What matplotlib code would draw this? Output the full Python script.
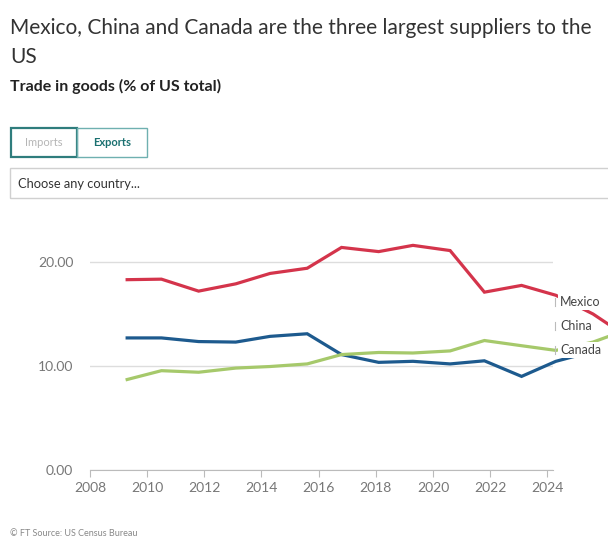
import matplotlib
matplotlib.use("Agg")
import matplotlib.pyplot as plt
from matplotlib.patches import Rectangle

plt.rcParams['font.family'] = ['Lato', 'DejaVu Sans']

# positions of the points along the time axis (as drawn)
years = [2009.3, 2010.5, 2011.8, 2013.1, 2014.3, 2015.6, 2016.8, 2018.1,
         2019.3, 2020.6, 2021.8, 2023.1, 2024.3, 2025.6, 2026.8]
mexico = [18.3, 18.35, 17.2, 17.9, 18.9, 19.4, 21.4, 21.0,
          21.6, 21.1, 17.1, 17.75, 16.8, 15.0, 12.8]
china = [12.7, 12.7, 12.35, 12.3, 12.85, 13.1, 11.1, 10.35,
         10.45, 10.2, 10.5, 9.0, 10.45, 11.4]
canada = [8.7, 9.55, 9.4, 9.8, 9.95, 10.2, 11.1, 11.3,
          11.25, 11.45, 12.45, 11.95, 11.5, 12.3, 13.5]

series = [("Mexico", mexico, "#d4344b"),
          ("China", china, "#1d5a8e"),
          ("Canada", canada, "#a6c96b")]
label_y = [16.15, 13.85, 11.55]

xticks = [2008, 2010, 2012, 2014, 2016, 2018, 2020, 2022, 2024]
yticks = [0, 10, 20]

W, H = 608, 541
fig = plt.figure(figsize=(W / 100, H / 100), dpi=100)

def px(x, y):
    return x / W, 1 - y / H

fig.text(*px(10, 28), "Mexico, China and Canada are the three largest suppliers to the",
         fontsize=15, color="#333333", va="center")
fig.text(*px(10, 57), "US", fontsize=15, color="#333333", va="center")
fig.text(*px(10, 86), "Trade in goods (% of US total)", fontsize=11.5,
         fontweight="bold", color="#222222", va="center")

# toggle buttons
fig.patches.append(Rectangle(px(11, 157), 66 / W, 29 / H, transform=fig.transFigure,
                             fill=False, ec="#2f7d7d", lw=1.6))
fig.patches.append(Rectangle(px(77, 157), 70 / W, 29 / H, transform=fig.transFigure,
                             fill=False, ec="#6fb0b0", lw=1.0))
fig.text(*px(44, 142), "Imports", fontsize=8, color="#b5b5b5", ha="center", va="center")
fig.text(*px(112, 142), "Exports", fontsize=8, color="#1a7070", fontweight="bold",
         ha="center", va="center")

# dropdown
fig.patches.append(Rectangle(px(10, 198), 640 / W, 30 / H, transform=fig.transFigure,
                             fill=False, ec="#d0d0d0", lw=1))
fig.text(*px(18, 184), "Choose any country...", fontsize=9.3, color="#333333", va="center")

ax = fig.add_axes([90 / W, 71 / H, 463 / W, 234 / H])
for name, vals, col in series:
    ax.plot(years[:len(vals)], vals, color=col, lw=2.3, clip_on=False,
            solid_joinstyle="miter")

for (name, vals, col), ly in zip(series, label_y):
    ax.plot([2024.27, 2024.27], [ly - 0.4, ly + 0.4], color="#bbbbbb", lw=0.8,
            clip_on=False, zorder=4)
    ax.text(2024.45, ly, name, fontsize=9, color="#444444", va="center",
            clip_on=False, zorder=5,
            bbox=dict(boxstyle="square,pad=0.15", fc="white", ec="none"))

ax.set_xlim(2008, 2024.2)
ax.set_ylim(0, 22.5)
ax.set_xticks(xticks)
ax.set_yticks(yticks)
ax.set_yticklabels(["%.2f" % v for v in yticks])
ax.grid(axis="y", color="#dddddd", lw=1)
ax.set_axisbelow(True)
for s in ["top", "right", "left"]:
    ax.spines[s].set_visible(False)
ax.spines["bottom"].set_color("#bbbbbb")
ax.tick_params(axis="y", length=0, pad=12, labelsize=10, labelcolor="#777777")
ax.tick_params(axis="x", length=5, color="#bbbbbb", labelsize=10, labelcolor="#777777")

fig.text(*px(10, 533), "\u00a9 FT Source: US Census Bureau", fontsize=6.5,
         color="#888888", va="center")

fig.savefig("out.png", dpi=100)
